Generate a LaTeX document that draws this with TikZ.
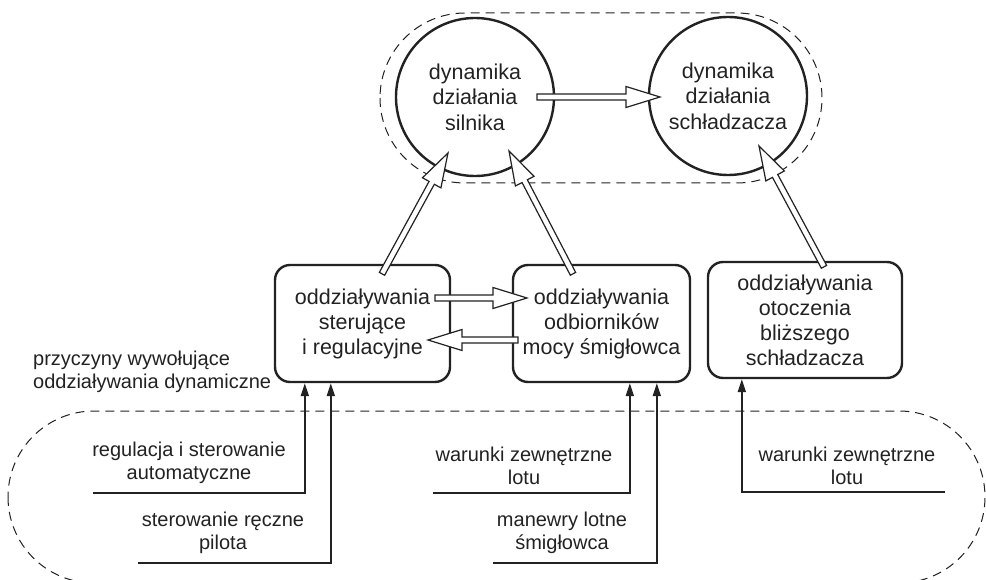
\documentclass[tikz,border=0pt]{standalone}
\usepackage{fontspec}
\setmainfont{Liberation Sans}
\usetikzlibrary{calc,arrows.meta}
\definecolor{ink}{HTML}{222222}
\newcommand\hollowarrow[2]{%
  \coordinate (hA) at (#1);
  \coordinate (hB) at (#2);
  \coordinate (hH) at ($(hB)!34pt!(hA)$);
  \filldraw[hollowstyle] ($(hA)!3pt!90:(hB)$) -- ($(hH)!3pt!-90:(hA)$) -- ($(hH)!10.5pt!-90:(hA)$) -- (hB) -- ($(hH)!10.5pt!90:(hA)$) -- ($(hH)!3pt!90:(hA)$) -- ($(hA)!3pt!-90:(hB)$) -- cycle;
}
\tikzset{
  circ/.style={circle, draw=ink, text=ink, line width=2.4pt, minimum size=158pt, inner sep=0pt, align=center, font=\fontsize{21.5}{25.5}\selectfont},
  rbox/.style={draw=ink, text=ink, rounded corners=15pt, line width=2.4pt, align=center, inner sep=0pt, font=\fontsize{21.5}{25}\selectfont},
  lbl/.style={align=center, text=ink, inner sep=0pt, font=\fontsize{20}{23.5}\selectfont},
  thinarrow/.style={draw=ink, line width=1.8pt, -{Triangle[length=13pt,width=8pt]}},
  hollowstyle/.style={draw=ink, fill=white, line width=1.2pt, line join=miter},
  grp/.style={draw=ink, dash pattern=on 9pt off 6pt, line width=1pt}
}
\begin{document}
\begin{tikzpicture}[x=1pt,y=-1pt]
\clip (0,0) rectangle (986,580);
\fill[white] (0,0) rectangle (986,580);
% groups
\draw[grp, rounded corners=85pt] (380,13) rectangle (822,183);
\draw[grp, rounded corners=86pt] (8,411) rectangle (985,583);
% nodes
\node[circ] (c1) at (475,97) {dynamika\\działania\\silnika};
\node[circ] (c2) at (728,96) {dynamika\\działania\\schładzacza};
\node[rbox, minimum width=175pt, minimum height=117pt] (b1) at (362.5,323.5) {oddziaływania\\sterujące\\i regulacyjne};
\node[rbox, minimum width=177pt, minimum height=117pt] (b2) at (601.5,323.5) {oddziaływania\\odbiorników\\mocy śmigłowca};
\node[rbox, minimum width=194pt, minimum height=116pt] (b3) at (805,320) {oddziaływania\\otoczenia\\bliższego\\schładzacza};
% labels
\node[lbl, align=left, anchor=west] (cap) at (33,372) {przyczyny wywołujące\\oddziaływania dynamiczne};
\node[lbl] (l1) at (189,463) {regulacja i sterowanie\\automatyczne};
\node[lbl] (l2) at (223,533) {sterowanie ręczne\\pilota};
\node[lbl] (l3) at (524,466) {warunki zewnętrzne\\lotu};
\node[lbl] (l4) at (562,533) {manewry lotne\\śmigłowca};
\node[lbl] (l5) at (847,466) {warunki zewnętrzne\\lotu};
% free ends of the input lines
\coordinate (s1) at (93,493);
\coordinate (s2) at (138,563);
\coordinate (s3) at (433,493);
\coordinate (s4) at (493,563);
\coordinate (s5) at (945,492);
% thin arrows
\draw[thinarrow] (s1) -| ($(b1.south west)+(31,0)$);
\draw[thinarrow] (s2) -| ($(b1.south west)+(57,0)$);
\draw[thinarrow] (s3) -| ($(b2.south west)+(118,0)$);
\draw[thinarrow] (s4) -| ($(b2.south west)+(145,0)$);
\draw[thinarrow] (s5) -| ($(b3.south west)+(35,0)$);
% hollow arrows
\hollowarrow{$(c1.center)+(62,0)$}{$(c2.center)+(-68,1)$}
\hollowarrow{$(b1.center)+(72.5,-25.5)$}{$(b2.center)+(-74.5,-25.5)$}
\hollowarrow{$(b2.center)+(-83.5,16.5)$}{$(b1.center)+(65.5,16.5)$}
\hollowarrow{$(b1.north)+(19.5,10)$}{$(c1.center)+(-27,56)$}
\hollowarrow{$(b2.north)+(-28.5,10)$}{$(c1.center)+(34,54)$}
\hollowarrow{$(b3.north)+(19,6)$}{$(c2.center)+(31,50)$}
\end{tikzpicture}
\end{document}
